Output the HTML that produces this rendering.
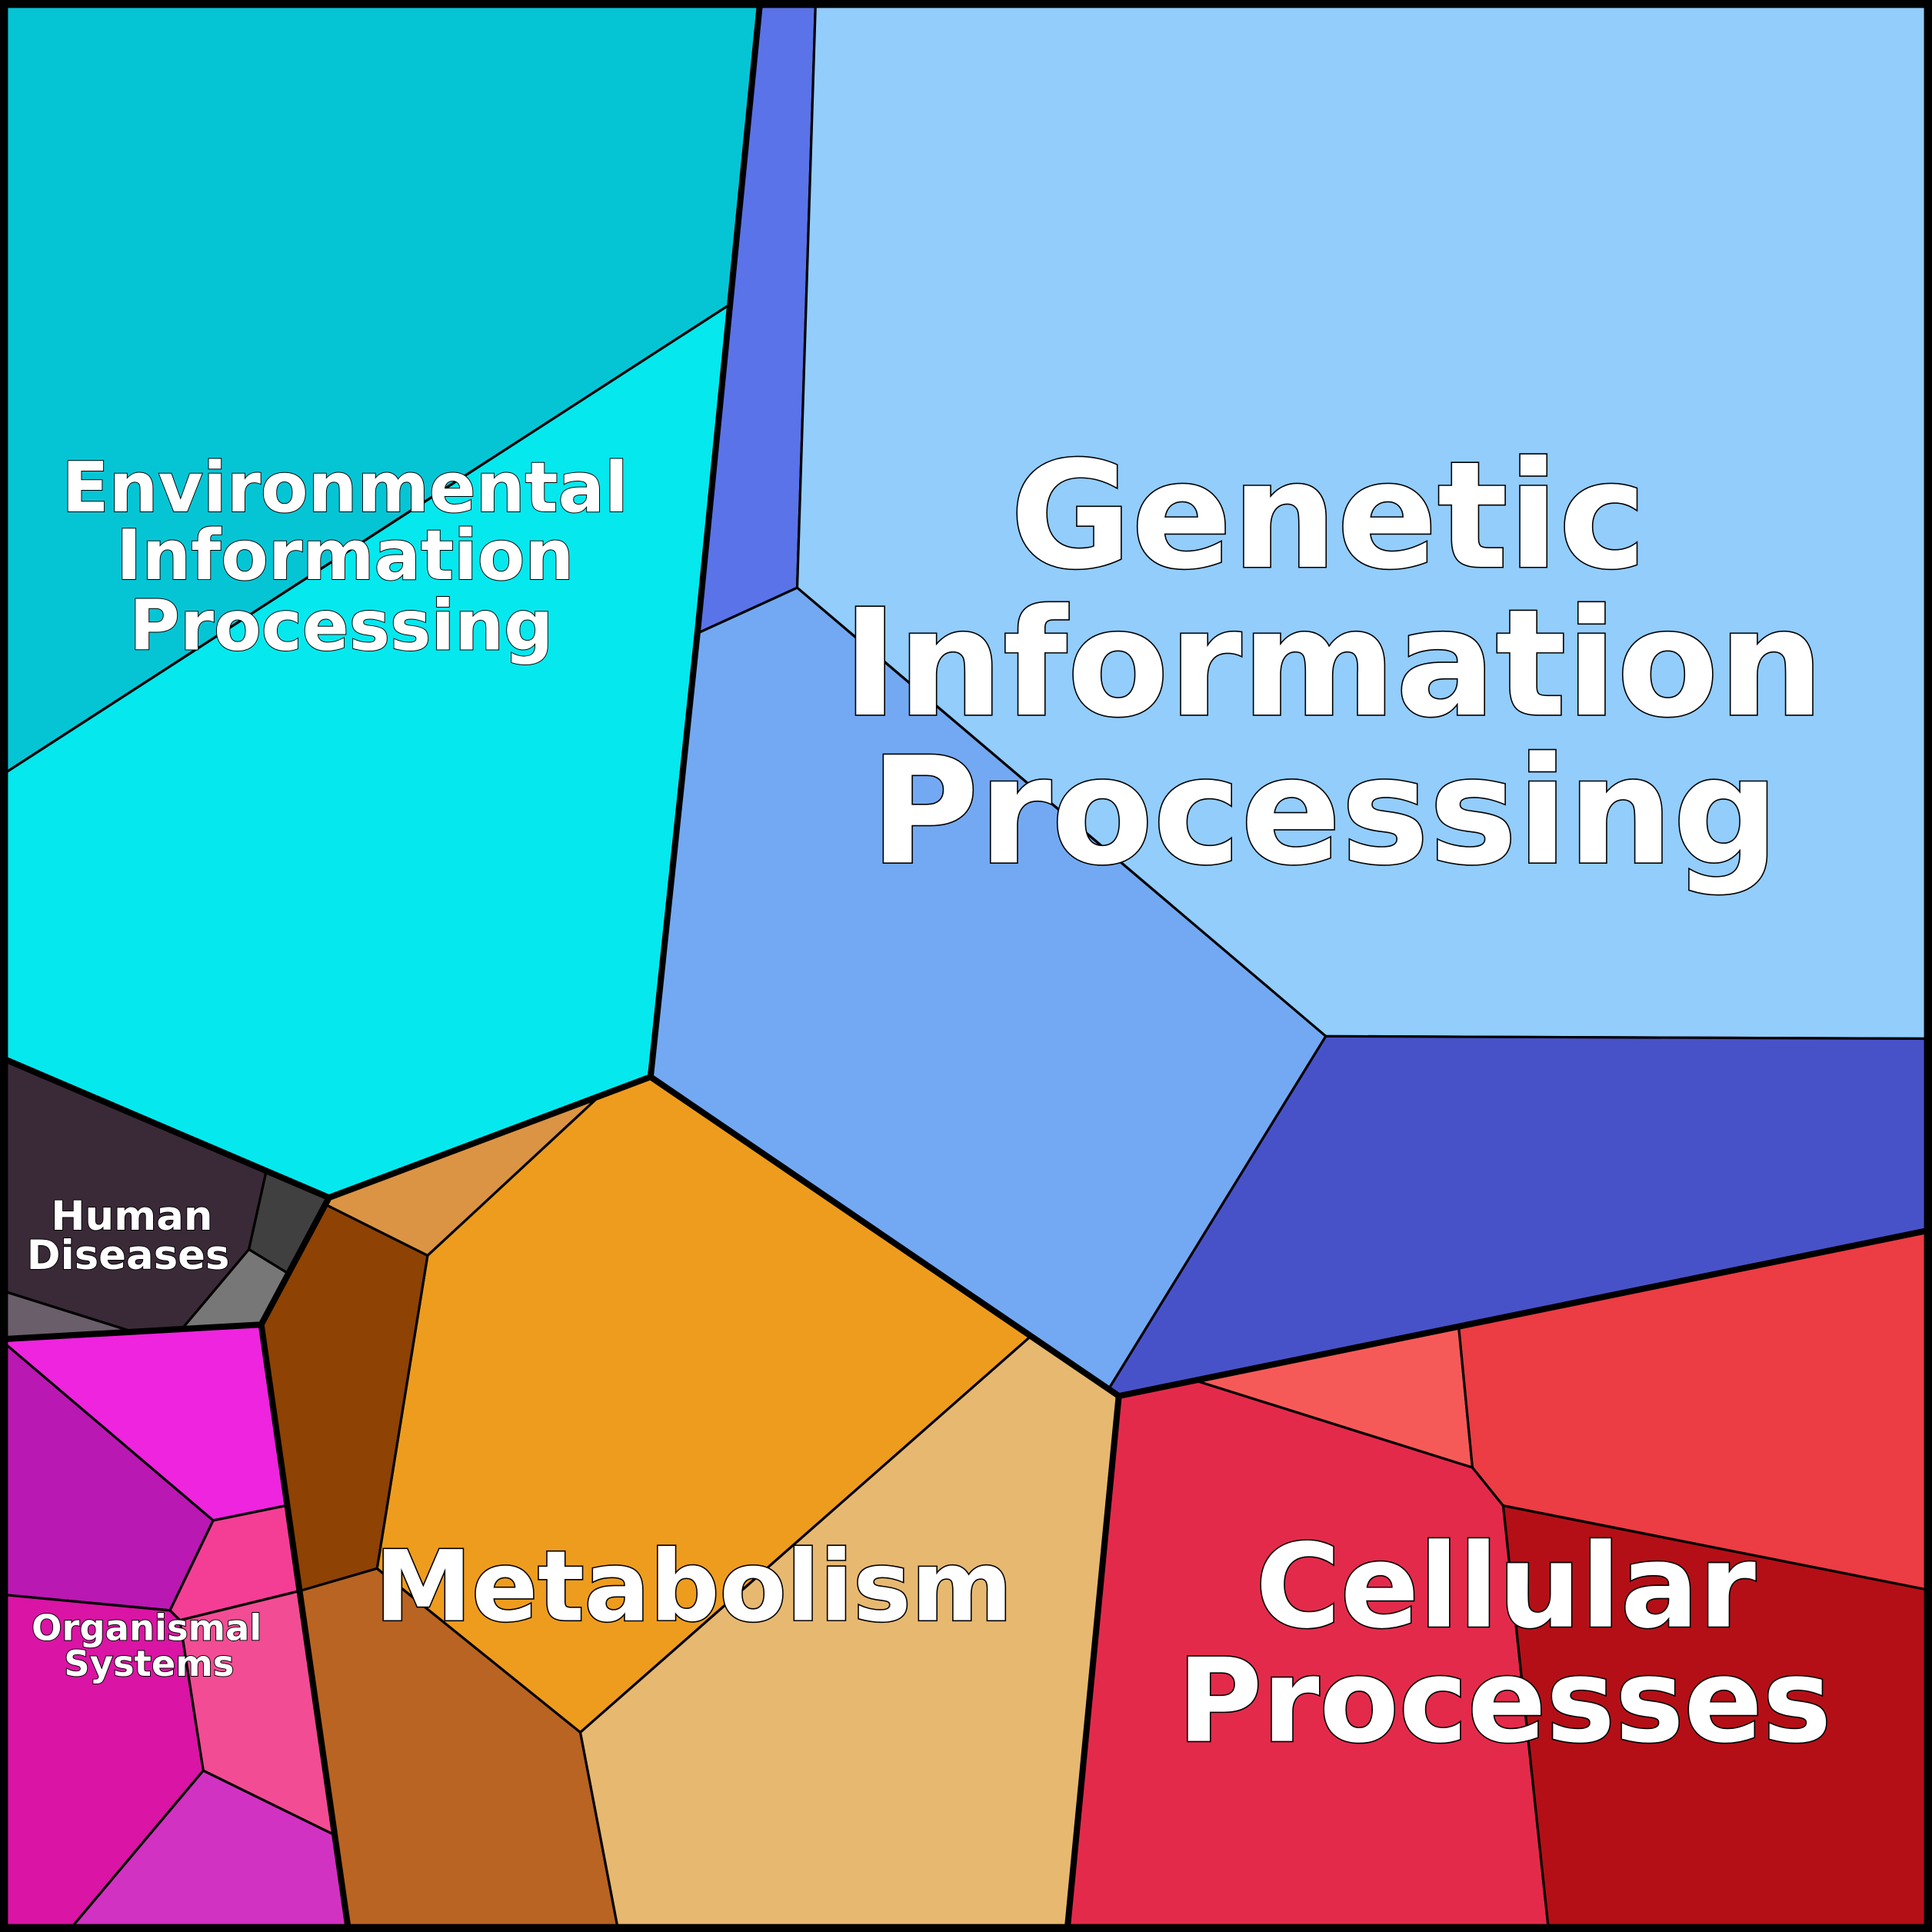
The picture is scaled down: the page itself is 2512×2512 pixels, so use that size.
<!DOCTYPE html>
<html><head><meta charset="utf-8"><style>
html,body{margin:0;padding:0;background:#000;}
svg{display:block;}
text{font-family:"DejaVu Sans","Liberation Sans",sans-serif;font-weight:bold;fill:#fff;stroke:#000;paint-order:stroke;text-anchor:middle;}
</style></head><body>
<svg width="2512" height="2512" viewBox="0 0 1568 1568" xmlns="http://www.w3.org/2000/svg">
<g stroke="#000" stroke-width="2" stroke-linejoin="round">
<polygon fill="#05C5D5" points="0,0 617,0 591,248 0,630"/>
<polygon fill="#05E8EE" points="0,630 591,248 566,514 528,874 267,972 0,858"/>
<polygon fill="#5A73E8" points="617,0 662,0 647,477 566,514 591,248"/>
<polygon fill="#92CDFC" points="662,0 1568,0 1568,843 1076,841 647,477"/>
<polygon fill="#73A9F2" points="647,477 1076,841 900,1127 836,1085 528,874 566,514"/>
<polygon fill="#4852C8" points="1076,841 1568,843 1568,998 908,1133 900,1127"/>
<polygon fill="#EE9C1E" points="528,874 836,1085 471,1406 306,1273 347,1019 486,890"/>
<polygon fill="#DA9444" points="267,972 486,890 347,1019 265,978"/>
<polygon fill="#8E4204" points="265,978 347,1019 306,1273 244,1291 212,1075"/>
<polygon fill="#B96422" points="244,1291 306,1273 471,1406 502,1568 283,1568"/>
<polygon fill="#E7B870" points="836,1085 908,1133 866,1568 502,1568 471,1406"/>
<polygon fill="#E42A4A" points="908,1133 972,1121 1195,1191 1220,1222 1257,1568 866,1568"/>
<polygon fill="#F65A58" points="972,1121 1184,1078 1195,1191"/>
<polygon fill="#EC3C44" points="1184,1078 1568,998 1568,1291 1220,1222 1195,1191"/>
<polygon fill="#B40F16" points="1220,1222 1568,1291 1568,1568 1257,1568"/>
<polygon fill="#3A2A38" points="0,858 216,951 202,1014 149,1077 105,1080 0,1047"/>
<polygon fill="#404040" points="216,951 267,972 233,1033 202,1014"/>
<polygon fill="#777777" points="202,1014 233,1033 212,1075 149,1077"/>
<polygon fill="#6A5E6A" points="0,1047 105,1080 0,1087"/>
<polygon fill="#EE24DE" points="0,1087 212,1075 232,1222 173,1234"/>
<polygon fill="#BA18B2" points="0,1087 173,1234 138,1307 0,1294"/>
<polygon fill="#F43E96" points="173,1234 232,1222 244,1291 146,1315 138,1307"/>
<polygon fill="#DA14A4" points="0,1294 138,1307 146,1315 165,1437 55,1568 0,1568"/>
<polygon fill="#F24C94" points="146,1315 244,1291 271,1489 165,1437"/>
<polygon fill="#D232C2" points="165,1437 271,1489 283,1568 55,1568"/>
</g>
<g stroke="#000" stroke-width="5" fill="none" stroke-linejoin="round">
<polyline points="0,858 267,972 528,874 566,514 617,0"/>
<polyline points="528,874 908,1133 1568,998"/>
<polyline points="908,1133 866,1568"/>
<polyline points="267,972 212,1075 0,1087"/>
<polyline points="212,1075 283,1568"/>
<rect x="3" y="3" width="1562" height="1562" stroke-width="7"/>
</g>
<g stroke-width="2">
<text font-size="120" x="1078" y="460">Genetic</text>
<text font-size="120" x="1082" y="580">Information</text>
<text font-size="120" x="1075" y="700">Processing</text>
<text font-size="94" x="1222" y="1320">Cellular</text>
<text font-size="94" x="1221" y="1413">Processes</text>
<text font-size="79" x="563" y="1315">Metabolism</text>
</g>
<g stroke-width="1.2">
<text font-size="56" x="280" y="415">Environmental</text>
<text font-size="56" x="280" y="470">Information</text>
<text font-size="56" x="277" y="527">Processing</text>
<text font-size="33" x="107" y="998">Human</text>
<text font-size="33" x="104" y="1030">Diseases</text>
<text font-size="29" x="119" y="1331">Organismal</text>
<text font-size="29" x="121" y="1360">Systems</text>
</g>
</svg>
</body></html>
